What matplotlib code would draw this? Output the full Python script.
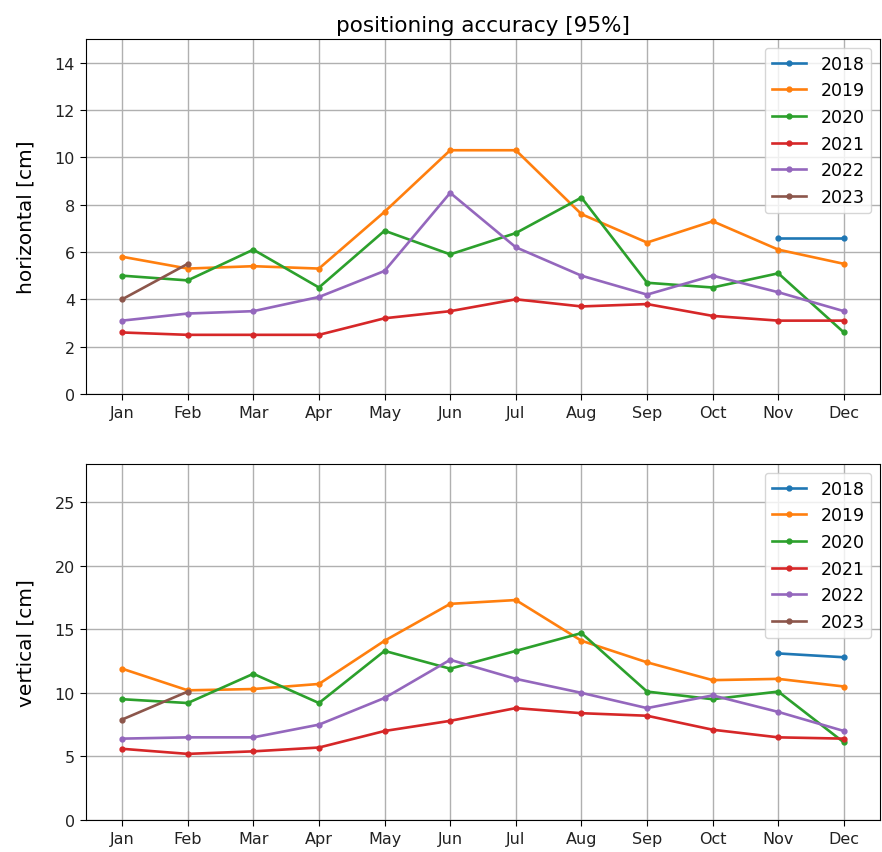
import matplotlib
matplotlib.use("Agg")
import matplotlib.pyplot as plt
import numpy as np

months = ["Jan", "Feb", "Mar", "Apr", "May", "Jun", "Jul", "Aug", "Sep", "Oct", "Nov", "Dec"]
years = ["2018", "2019", "2020", "2021", "2022", "2023"]
nan = np.nan

horiz_2018 = [nan, nan, nan, nan, nan, nan, nan, nan, nan, nan, 6.6, 6.6]
horiz_2019 = [5.8, 5.3, 5.4, 5.3, 7.7, 10.3, 10.3, 7.6, 6.4, 7.3, 6.1, 5.5]
horiz_2020 = [5.0, 4.8, 6.1, 4.5, 6.9, 5.9, 6.8, 8.3, 4.7, 4.5, 5.1, 2.6]
horiz_2021 = [2.6, 2.5, 2.5, 2.5, 3.2, 3.5, 4.0, 3.7, 3.8, 3.3, 3.1, 3.1]
horiz_2022 = [3.1, 3.4, 3.5, 4.1, 5.2, 8.5, 6.2, 5.0, 4.2, 5.0, 4.3, 3.5]
horiz_2023 = [4.0, 5.5, nan, nan, nan, nan, nan, nan, nan, nan, nan, nan]

vert_2018 = [nan, nan, nan, nan, nan, nan, nan, nan, nan, nan, 13.1, 12.8]
vert_2019 = [11.9, 10.2, 10.3, 10.7, 14.1, 17.0, 17.3, 14.1, 12.4, 11.0, 11.1, 10.5]
vert_2020 = [9.5, 9.2, 11.5, 9.2, 13.3, 11.9, 13.3, 14.7, 10.1, 9.5, 10.1, 6.1]
vert_2021 = [5.6, 5.2, 5.4, 5.7, 7.0, 7.8, 8.8, 8.4, 8.2, 7.1, 6.5, 6.4]
vert_2022 = [6.4, 6.5, 6.5, 7.5, 9.6, 12.6, 11.1, 10.0, 8.8, 9.8, 8.5, 7.0]
vert_2023 = [7.9, 10.1, nan, nan, nan, nan, nan, nan, nan, nan, nan, nan]

horiz = [horiz_2018, horiz_2019, horiz_2020, horiz_2021, horiz_2022, horiz_2023]
vert = [vert_2018, vert_2019, vert_2020, vert_2021, vert_2022, vert_2023]

W, H = 882, 853
fig = plt.figure(figsize=(W / 100, H / 100), dpi=100)

def rect(l, t, r, b):
    return [l / W, 1 - b / H, (r - l) / W, (b - t) / H]

ax1 = fig.add_axes(rect(86, 40, 880, 395))
ax2 = fig.add_axes(rect(86, 465, 880, 821))

x = np.arange(len(months))
for ax, data, ylim, yl, ticks in [
    (ax1, horiz, (0, 15), "horizontal [cm]", np.arange(0, 15, 2)),
    (ax2, vert, (0, 28), "vertical [cm]", np.arange(0, 28, 5)),
]:
    for yr, vals in zip(years, data):
        ax.plot(x, vals, marker=".", label=yr, linewidth=1.9, markersize=7)
    ax.set_xticks(x)
    ax.set_xticklabels(months)
    ax.set_yticks(ticks)
    ax.set_ylim(*ylim)
    ax.tick_params(labelsize=11.5, length=4.5, labelcolor="#222222")
    ax.set_ylabel(yl, fontsize=14.5, labelpad=14)
    ax.grid(True, linewidth=1.0)
    ax.legend(loc="upper right", fontsize=12.5)

ax1.set_title("positioning accuracy [95%]", fontsize=15.5)

fig.savefig("out.png", dpi=100)
